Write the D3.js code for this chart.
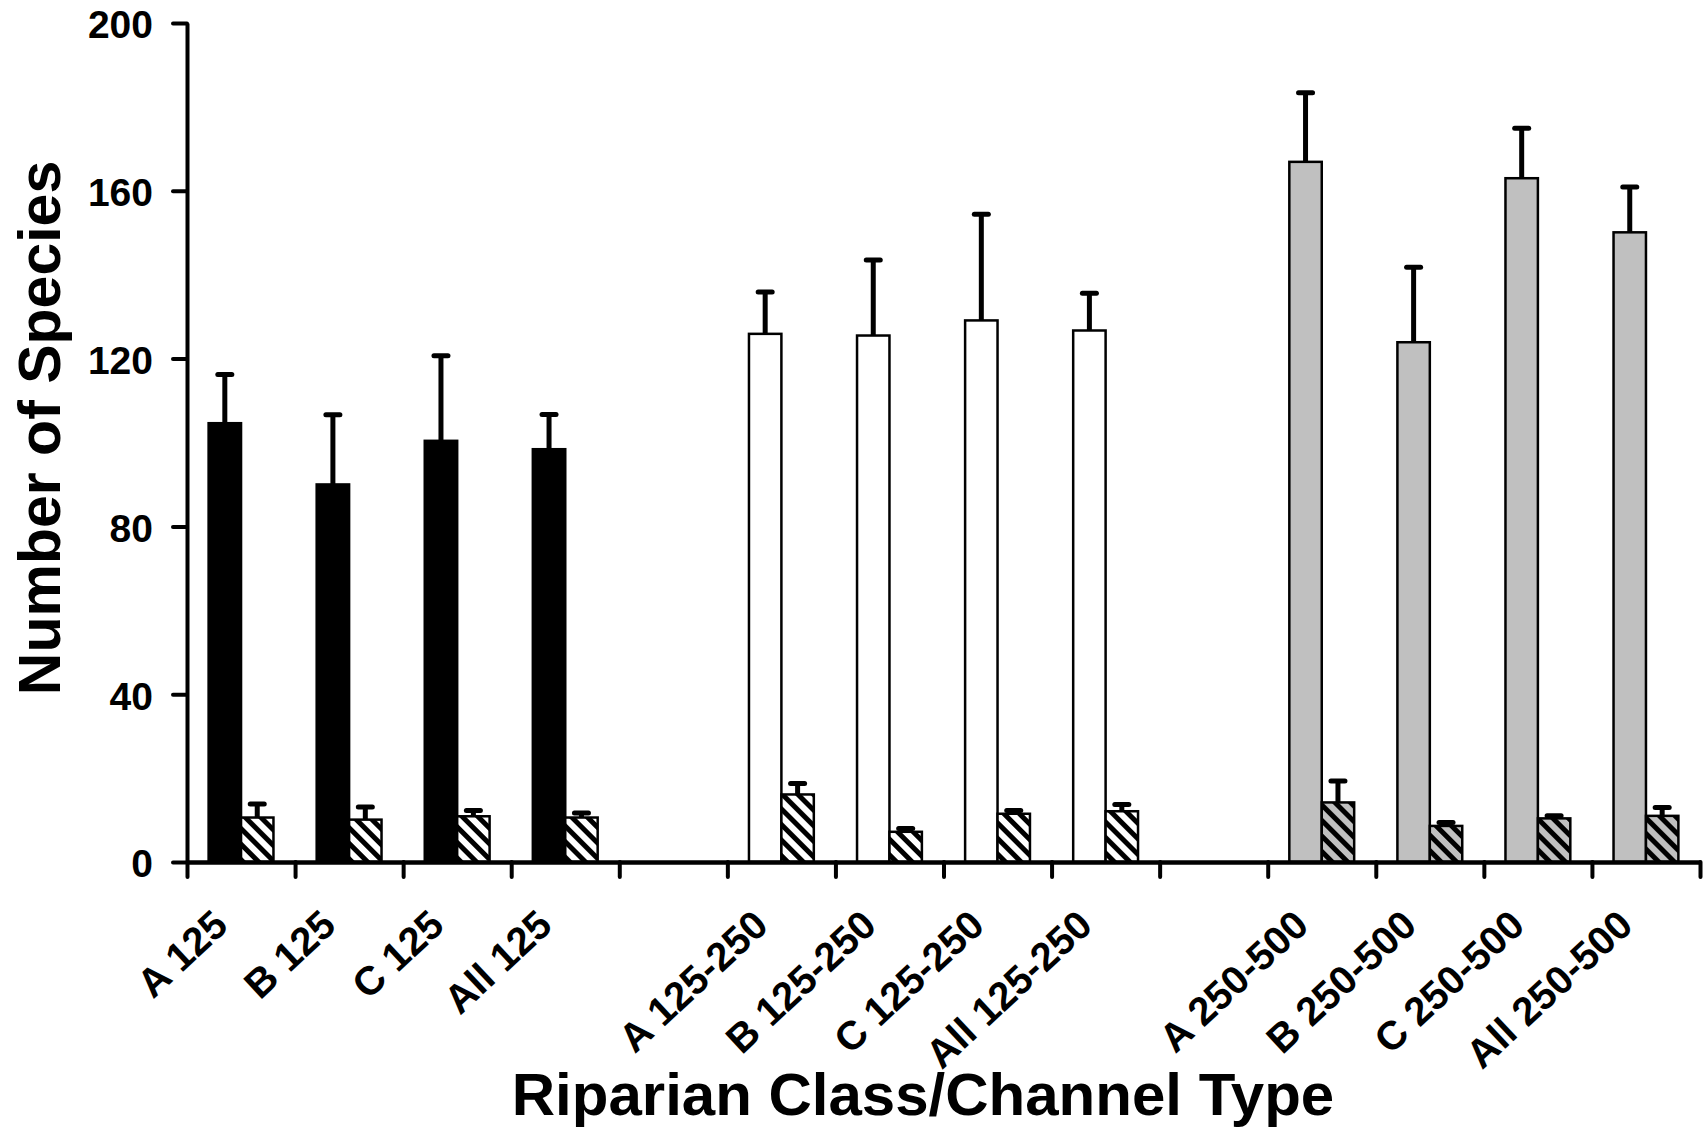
<!DOCTYPE html>
<html>
<head>
<meta charset="utf-8">
<script src="https://cdn.jsdelivr.net/npm/d3@7"></script>
<style>
  html, body { margin: 0; padding: 0; background: #fff; }
  svg { display: block; }
  text { font-family: "Liberation Sans", Arial, sans-serif; font-weight: bold; fill: #000; }
</style>
</head>
<body>
<svg id="chart" width="1705" height="1131"></svg>
<script>
// ---- data ----
const categories = ["A 125", "B 125", "C 125", "All 125", "",
  "A 125-250", "B 125-250", "C 125-250", "All 125-250", "",
  "A 250-500", "B 250-500", "C 250-500", "All 250-500"];
// group index for each category (0: 125, 1: 125-250, 2: 250-500, -1: gap)
const groupOf = [0, 0, 0, 0, -1, 1, 1, 1, 1, -1, 2, 2, 2, 2];
// main (solid) series: mean and upper error amount
const mainMean = [104.6, 90.0, 100.4, 98.4, null, 125.9, 125.5, 129.1, 126.7, null, 166.9, 123.9, 163.0, 150.1];
const mainErr  = [11.6, 16.6, 20.3, 8.3, null, 10.0, 18.0, 25.3, 8.9, null, 16.5, 17.9, 11.9, 10.8];
// hatched series: mean and upper error amount
const hatchMean = [10.6, 10.1, 10.9, 10.6, null, 16.1, 7.2, 11.5, 12.1, null, 14.2, 8.6, 10.4, 11.0];
const hatchErr  = [3.2, 3.0, 1.4, 1.1, null, 2.6, 0.8, 0.8, 1.6, null, 5.1, 0.8, 0.6, 2.0];
const yTicks = [0, 40, 80, 120, 160, 200];
const xTitle = "Riparian Class/Channel Type";
const yTitle = "Number of Species";

// ---- layout ----
const svg = d3.select("#chart");
const X0 = 187, X1 = 1700, Y0 = 862, Y1 = 23;
const groupFill = ["#000000", "#ffffff", "#c0c0c0"];
const hatchBg = ["#ffffff", "#ffffff", "#c0c0c0"];

const defs = svg.append("defs");
hatchBg.forEach((bg, i) => {
  const p = defs.append("pattern")
    .attr("id", "hatch" + i)
    .attr("patternUnits", "userSpaceOnUse")
    .attr("width", 11).attr("height", 11)
    .attr("patternTransform", "rotate(-45)");
  p.append("rect").attr("width", 11).attr("height", 11).attr("fill", bg);
  p.append("rect").attr("x", 0).attr("width", 5).attr("height", 11).attr("fill", "#000");
});

const idx = d3.range(categories.length);
const x = d3.scaleBand().domain(idx).range([X0, X1]).padding(0);
const xEdge = d3.scaleLinear().domain([0, categories.length]).range([X0, X1]);
const sub = d3.scaleBand().domain(["main", "hatch"]).range([0.2 * x.bandwidth(), 0.8 * x.bandwidth()]).padding(0);
const y = d3.scaleLinear().domain([0, 200]).range([Y0, Y1]);

const rows = idx.filter(i => groupOf[i] >= 0).map(i => ({
  i, g: groupOf[i], mm: mainMean[i], me: mainErr[i], hm: hatchMean[i], he: hatchErr[i]
}));

// bars
const gBars = svg.append("g");
gBars.selectAll("rect.main").data(rows).join("rect")
  .attr("class", "main")
  .attr("x", d => x(d.i) + sub("main"))
  .attr("width", sub.bandwidth())
  .attr("y", d => y(d.mm))
  .attr("height", d => y(0) - y(d.mm))
  .attr("fill", d => groupFill[d.g])
  .attr("stroke", "#000").attr("stroke-width", 2.5);

gBars.selectAll("rect.hatch").data(rows).join("rect")
  .attr("class", "hatch")
  .attr("x", d => x(d.i) + sub("hatch"))
  .attr("width", sub.bandwidth())
  .attr("y", d => y(d.hm))
  .attr("height", d => y(0) - y(d.hm))
  .attr("fill", d => "url(#hatch" + d.g + ")")
  .attr("stroke", "#000").attr("stroke-width", 2.5);

// error bars
const errs = [];
rows.forEach(d => {
  errs.push({ cx: x(d.i) + sub("main") + sub.bandwidth() / 2, v: d.mm, e: d.me });
  errs.push({ cx: x(d.i) + sub("hatch") + sub.bandwidth() / 2, v: d.hm, e: d.he });
});
const gErr = svg.append("g").attr("stroke", "#000").attr("stroke-width", 5).attr("stroke-linecap", "round");
gErr.selectAll("line.v").data(errs).join("line")
  .attr("class", "v")
  .attr("x1", d => d.cx).attr("x2", d => d.cx)
  .attr("y1", d => y(d.v)).attr("y2", d => y(d.v + d.e))
  .attr("stroke-linecap", "butt");
gErr.selectAll("line.c").data(errs).join("line")
  .attr("class", "c")
  .attr("x1", d => d.cx - 7).attr("x2", d => d.cx + 7)
  .attr("y1", d => y(d.v + d.e)).attr("y2", d => y(d.v + d.e));

// y axis
const yAxis = svg.append("g").attr("transform", `translate(${X0},0)`)
  .call(d3.axisLeft(y).tickValues(yTicks).tickSize(14).tickSizeOuter(0).tickPadding(20).tickFormat(d3.format("d")));
yAxis.select(".domain").attr("stroke-width", 4);
yAxis.selectAll(".tick line").attr("stroke-width", 4).attr("stroke-linecap", "round");
yAxis.selectAll(".tick text")
  .style("font-size", "39px").style("font-family", "'Liberation Sans', Arial, sans-serif").style("font-weight", "bold")
  .attr("dy", "0.38em");

// x axis (ticks at category edges)
const xAxis = svg.append("g").attr("transform", `translate(0,${Y0})`)
  .call(d3.axisBottom(xEdge).tickValues(d3.range(categories.length + 1)).tickSize(15).tickSizeOuter(0).tickFormat(""));
xAxis.select(".domain").attr("stroke-width", 4.5);
xAxis.selectAll(".tick line").attr("stroke-width", 4).attr("stroke-linecap", "round");

// category labels
svg.append("g").selectAll("text").data(idx.filter(i => categories[i] !== "")).join("text")
  .attr("transform", i => `translate(${x(i) + x.bandwidth() / 2 - 11},${Y0 + 66}) rotate(-43)`)
  .attr("text-anchor", "end")
  .style("font-size", "40px")
  .text(i => categories[i]);

// titles
svg.append("text")
  .attr("x", 923).attr("y", 1115)
  .attr("text-anchor", "middle")
  .style("font-size", "60px")
  .text(xTitle);

svg.append("text")
  .attr("transform", "translate(60,428) rotate(-90)")
  .attr("text-anchor", "middle")
  .style("font-size", "59px")
  .text(yTitle);
</script>
</body>
</html>
